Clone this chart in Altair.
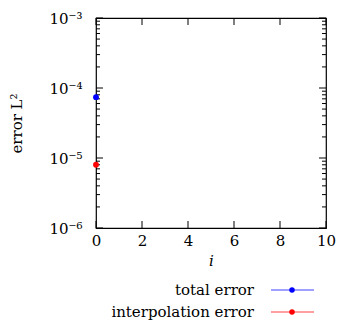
import altair as alt
import pandas as pd

# Error measurements per iteration i
series = ["total error", "interpolation error"]
colors = ["#0000ff", "#ff0000"]
iterations = [0, 0]
errors = [7.4e-5, 8.0e-6]

# Axis tick positions
x_ticks = [0, 2, 4, 6, 8, 10]
y_decades = [1e-6, 1e-5, 1e-4, 1e-3]
y_minor = [m * 10.0 ** e for e in (-6, -5, -4) for m in range(2, 10)]

df = pd.DataFrame({"i": iterations, "err": errors, "series": series})

FONT = "DejaVu Serif"
FS = 15
W, H = 230, 210
MAJOR, MINOR = 7, 4

xs = alt.Scale(domain=[0, 10], nice=False, zero=False)
ys = alt.Scale(type="log", domain=[1e-6, 1e-3], nice=False)
cs = alt.Scale(domain=series, range=colors)

label_expr = ("datum.value >= 0.00099 ? '10⁻³' : datum.value >= 0.000099 ? '10⁻⁴'"
              " : datum.value >= 0.0000099 ? '10⁻⁵' : '10⁻⁶'")

base = alt.Chart(df)

lines = base.mark_line(strokeWidth=1, clip=False).encode(
    x=alt.X("i:Q", scale=xs, axis=alt.Axis(
        orient="bottom", values=x_ticks, ticks=False, domain=False, grid=False,
        labelFlush=False, labelFont=FONT, labelFontSize=FS, labelColor="black",
        labelPadding=5, title="i", titleFont=FONT, titleFontStyle="italic",
        titleFontWeight="normal", titleFontSize=FS, titleColor="black",
        titlePadding=5)),
    y=alt.Y("err:Q", scale=ys, axis=alt.Axis(
        orient="left", values=y_decades, ticks=False, domain=False, grid=False,
        labelFlush=False, labelExpr=label_expr, labelFont=FONT, labelFontSize=FS,
        labelColor="black", labelPadding=14, title="error L²", titleFont=FONT,
        titleFontWeight="normal", titleFontSize=FS, titleColor="black",
        titlePadding=24)),
    color=alt.Color("series:N", scale=cs, legend=None),
)

points = base.mark_circle(size=34, opacity=1, clip=False).encode(
    x=alt.X("i:Q", scale=xs, axis=None),
    y=alt.Y("err:Q", scale=ys, axis=None),
    color=alt.Color("series:N", scale=cs, legend=None),
)

# Inward tick marks on all four sides of the frame
def y_ticks(values, length):
    d = alt.Chart(pd.DataFrame({"v": values})).mark_rule(
        color="black", strokeWidth=1)
    enc = dict(y=alt.Y("v:Q", scale=ys, axis=None))
    return [d.encode(x=alt.value(0), x2=alt.value(length), **enc),
            d.encode(x=alt.value(W - length), x2=alt.value(W), **enc)]

def x_tick_marks(values, length):
    d = alt.Chart(pd.DataFrame({"v": values})).mark_rule(
        color="black", strokeWidth=1)
    enc = dict(x=alt.X("v:Q", scale=xs, axis=None))
    return [d.encode(y=alt.value(H - length), y2=alt.value(H), **enc),
            d.encode(y=alt.value(0), y2=alt.value(length), **enc)]

tick_layers = (y_ticks(y_decades, MAJOR) + y_ticks(y_minor, MINOR)
               + x_tick_marks(x_ticks, MAJOR))

# Legend below the plot: label on the left, line with a marker on the right
leg_df = pd.DataFrame({"series": series})
leg_base = alt.Chart(leg_df).encode(
    y=alt.Y("series:N", scale=alt.Scale(type="point", domain=series,
                                         range=[272, 294], padding=0), axis=None),
    color=alt.Color("series:N", scale=cs, legend=None),
)
leg_text = leg_base.mark_text(align="right", baseline="middle", font=FONT,
                              fontSize=FS, clip=False).encode(
    x=alt.value(158), text="series:N", color=alt.value("black"))
leg_line = leg_base.mark_rule(strokeWidth=1, strokeOpacity=0.75, clip=False).encode(
    x=alt.value(175), x2=alt.value(218))
leg_dot = leg_base.mark_circle(size=30, opacity=1, clip=False).encode(
    x=alt.value(196))

chart = (
    alt.layer(*tick_layers, lines, points, leg_line, leg_dot, leg_text)
    .resolve_axis(x="independent", y="independent")
    .resolve_scale(y="independent")
    .properties(width=W, height=H, autosize="none",
                padding={"left": 96, "top": 18, "right": 12, "bottom": 93},
                background="white")
    .configure_view(stroke="black", strokeWidth=1.2)
)

chart.save("out.html", embed_options={"renderer": "svg", "actions": False})
